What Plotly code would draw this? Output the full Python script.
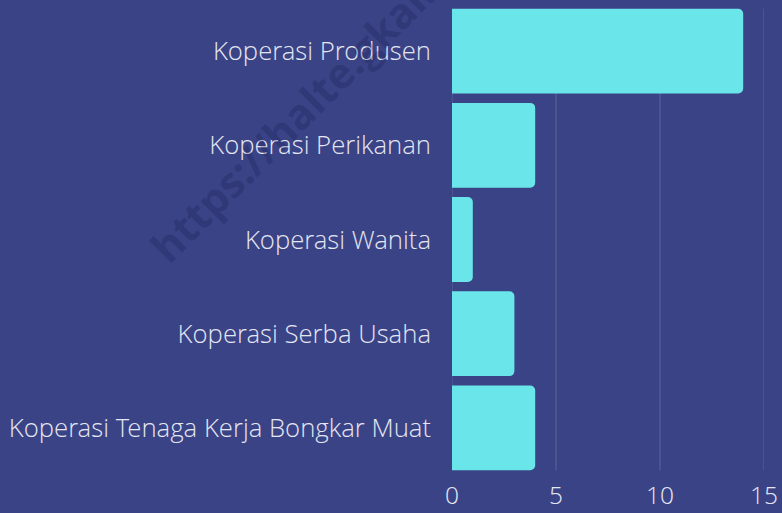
import plotly.graph_objects as go

categories = ["Koperasi Produsen", "Koperasi Perikanan", "Koperasi Wanita",
              "Koperasi Serba Usaha", "Koperasi Tenaga Kerja Bongkar Muat"]
values = [14, 4, 1, 3, 4]
x_ticks = [0, 5, 10, 15]

BG = "#3a4386"
BAR = "#6ae6ea"
TXT = "#e4e6f2"
GRID = "rgba(255,255,255,0.18)"
BARGAP = 0.1
FONT = "Open Sans Light, Open Sans"

fig = go.Figure(go.Bar(
    x=values, y=categories, orientation="h",
    marker=dict(color=BAR, line=dict(width=0)),
))

# grid lines spanning only the bar extent (as in the reference)
n = len(categories)
half = (1 - BARGAP) / 2
shapes = [dict(type="line", xref="x", yref="y", x0=t, x1=t,
               y0=-half, y1=n - 1 + half, layer="below",
               line=dict(color=GRID, width=1)) for t in x_ticks]

fig.update_layout(
    width=782, height=513,
    paper_bgcolor=BG, plot_bgcolor=BG,
    margin=dict(l=452, r=18, t=4, b=38, autoexpand=False),
    bargap=BARGAP,
    barcornerradius=5,
    showlegend=False,
    font=dict(family=FONT, color=TXT, size=25.7, weight=300),
    shapes=shapes,
    xaxis=dict(range=[0, 15], tickvals=x_ticks, showgrid=False,
               zeroline=False, showline=False, ticks="", ticklabelstandoff=3,
               automargin=False,
               tickfont=dict(size=24.5, color=TXT, family=FONT, weight=300)),
    yaxis=dict(categoryorder="array", categoryarray=categories[::-1],
               range=[-0.5, n - 0.5], showgrid=False, zeroline=False,
               ticks="", ticklabelstandoff=20, automargin=False,
               tickfont=dict(size=25.7, color=TXT, family=FONT, weight=300)),
    annotations=[dict(
        text="https://halte.gkal.id", xref="paper", yref="paper",
        x=-0.47, y=0.785, xanchor="center", yanchor="middle",
        textangle=-45, showarrow=False,
        font=dict(family="Open Sans", size=42, color="rgba(20,25,80,0.26)", weight=700),
    )],
)

fig.write_html("out.html", config={"displayModeBar": False},
               post_script="document.body.style.margin='0';document.body.style.background='%s';" % BG)
